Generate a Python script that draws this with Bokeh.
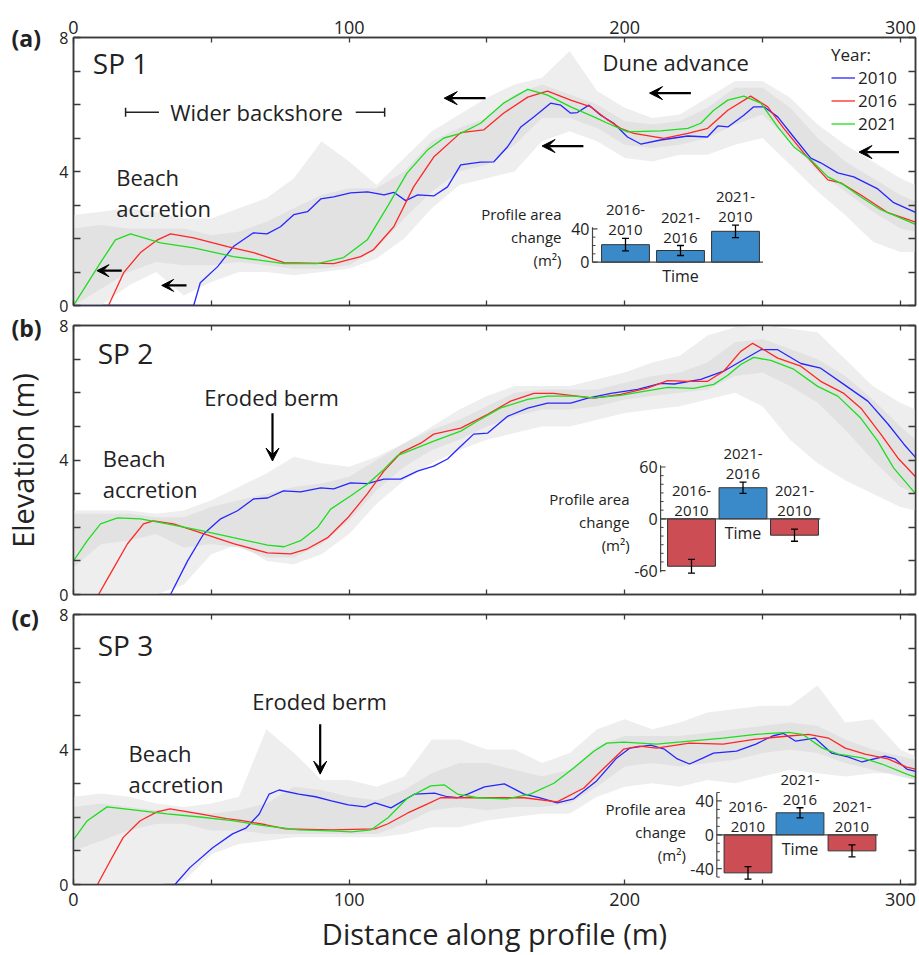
import numpy as np
from bokeh.plotting import figure
from bokeh.models import (Range1d, LinearAxis, FixedTicker, Label, Arrow, VeeHead,
                          TeeHead, Legend, LegendItem)
from bokeh.layouts import column, row
from bokeh.embed import file_html
from bokeh.resources import INLINE
from bokeh.core.properties import value

FONT = "Open Sans"
BLUE, RED, GREEN = "#2626ff", "#ff2626", "#1fdc1f"
BAR_POS, BAR_NEG = "#3a8ac9", "#cd4d55"
INK = "#222222"
AXC = "#3a3a3a"

# ---------------- data ----------------
YEARS = ["2010", "2016", "2021"]
X_TICKS = [0, 100, 200, 300]
X_MINOR = [50, 150, 250]
Y_TICKS = [0, 4, 8]
Y_MINOR = [1, 2, 3, 5, 6, 7]

# Panel (a) SP 1
A_2010_X = [0, 43.6, 46, 52.3, 58, 65.3, 70.2, 75.1, 79.9, 84.9, 89.7, 94.4, 100.5, 106.7, 112.7, 116.2, 120.5, 124.9, 130.7, 135.7, 140.5, 147.7, 152.5, 157.5, 162.3, 167, 173.1, 176.8, 180.4, 182.8, 187, 191.3, 196, 201, 205.8, 213, 222.9, 230, 233.8, 237.4, 243.2, 246.8, 250.5, 255.5, 261.3, 267.5, 271.1, 277.3, 283.1, 291.8, 297.6, 305.5]
A_2010_Y = [0, 0, 0.68, 1.16, 1.76, 2.17, 2.14, 2.35, 2.71, 2.8, 3.18, 3.24, 3.36, 3.39, 3.3, 3.38, 3.13, 3.30, 3.27, 3.54, 4.2, 4.28, 4.29, 4.74, 5.33, 5.63, 6.04, 5.98, 5.74, 5.76, 5.98, 5.68, 5.44, 5.03, 4.82, 4.94, 5.06, 5.03, 5.36, 5.33, 5.68, 5.93, 5.93, 5.63, 5.03, 4.40, 4.26, 3.96, 3.84, 3.48, 3.07, 2.78]
A_2016_X = [12.7, 18.2, 24.3, 30.5, 35.2, 43.6, 55.9, 65.3, 76.4, 94.4, 104.2, 108.9, 116.2, 123.4, 130.7, 140.5, 148.8, 156, 164.8, 172, 180.4, 187.7, 193.8, 198.5, 203.3, 214.2, 222.9, 230.1, 237.4, 245.7, 251.9, 257.7, 265, 273.7, 278.4, 285.7, 295.5, 305.5]
A_2016_Y = [0, 0.98, 1.58, 1.96, 2.14, 2.02, 1.76, 1.58, 1.28, 1.25, 1.46, 1.67, 2.35, 3.54, 4.43, 5.16, 5.24, 5.74, 6.22, 6.40, 6.13, 5.93, 5.54, 5.29, 5.14, 4.99, 5.14, 5.29, 5.83, 6.25, 5.93, 5.29, 4.55, 3.75, 3.66, 3.30, 2.77, 2.49]
A_2021_X = [0, 9.8, 15.2, 20.7, 31.6, 43.6, 58, 76.4, 88.5, 98, 106.6, 113.9, 121, 128.4, 134.4, 140.5, 147.7, 156, 164.8, 172, 180.4, 188.8, 193.8, 201, 213, 222.9, 227.6, 232.3, 237.4, 243.2, 249.4, 255.5, 261.3, 267.5, 273.7, 279.5, 285.7, 292.9, 305.5]
A_2021_Y = [0, 1.28, 1.96, 2.14, 1.87, 1.72, 1.46, 1.25, 1.25, 1.43, 1.96, 2.95, 3.95, 4.64, 5.0, 5.14, 5.44, 6.04, 6.45, 6.28, 5.93, 5.63, 5.44, 5.18, 5.21, 5.29, 5.44, 5.83, 6.13, 6.25, 6.04, 5.33, 4.74, 4.35, 3.84, 3.60, 3.24, 2.86, 2.42]

# Panel (b) SP 2
B_2010_X = [35.2, 41.4, 47.2, 53.4, 59.5, 65.3, 70.4, 76.2, 82.4, 89.7, 94.4, 100.5, 106.6, 112.6, 118.7, 124.8, 130.7, 135.7, 140.5, 145.2, 150.3, 157.5, 164.8, 172, 180.4, 186.6, 195, 204.7, 213, 218, 227.6, 235.9, 243.2, 249.4, 255.5, 263.9, 271.1, 279.5, 288.2, 295.5, 301.3, 305.5]
B_2010_Y = [0, 1.0, 1.8, 2.25, 2.49, 2.84, 2.87, 3.08, 3.05, 3.17, 3.14, 3.32, 3.30, 3.43, 3.43, 3.67, 3.82, 4.03, 4.41, 4.77, 4.80, 5.30, 5.54, 5.69, 5.69, 5.84, 5.98, 6.10, 6.28, 6.26, 6.40, 6.64, 6.99, 7.28, 7.28, 6.87, 6.73, 6.25, 5.75, 5.07, 4.47, 4.08]
B_2016_X = [9.1, 13.4, 19.6, 25.4, 29, 36.3, 46, 58, 70.4, 78.8, 84.9, 92.2, 99.5, 106.6, 112.6, 118.7, 126, 130.7, 140.5, 150.3, 158.6, 167, 174.2, 180.4, 188.8, 198.5, 208.2, 215.6, 222.9, 230.1, 235.9, 242.1, 246.4, 250.5, 255.5, 263.9, 271.1, 279.5, 285.7, 292.9, 299.1, 305.5]
B_2016_Y = [0, 0.62, 1.51, 2.1, 2.19, 2.1, 1.84, 1.51, 1.24, 1.21, 1.36, 1.69, 2.28, 2.99, 3.67, 4.21, 4.5, 4.77, 4.95, 5.36, 5.75, 5.98, 5.98, 5.92, 5.84, 5.95, 6.14, 6.36, 6.34, 6.34, 6.64, 7.23, 7.47, 7.28, 7.03, 6.79, 6.34, 5.98, 5.54, 4.77, 4.06, 3.50]
B_2021_X = [0, 5, 9.8, 16, 24.3, 34, 46, 58, 70.4, 76.4, 82.4, 88.5, 93.3, 100.5, 106.6, 112.6, 117.5, 124.8, 130.7, 140.5, 146.6, 155, 164.8, 172, 181.5, 188.8, 198.5, 206.9, 215.6, 225, 232.3, 237.4, 242.1, 246.8, 253, 261.3, 270, 277.3, 285.7, 291.8, 297.6, 305.5]
B_2021_Y = [1.0, 1.6, 2.1, 2.28, 2.25, 2.1, 1.91, 1.69, 1.47, 1.42, 1.6, 1.99, 2.54, 2.93, 3.28, 3.72, 4.13, 4.37, 4.56, 4.86, 5.16, 5.55, 5.8, 5.9, 5.9, 5.85, 5.92, 6.04, 6.16, 6.13, 6.25, 6.52, 6.84, 7.05, 6.96, 6.70, 6.19, 5.90, 5.24, 4.56, 3.76, 3.00]

# Panel (c) SP 3
C_2010_X = [36.8, 42.2, 50.5, 57.7, 62.7, 67.4, 71, 74.6, 81.7, 87.8, 93.6, 99.7, 105.8, 109.4, 115.2, 123.8, 131, 135.6, 139.3, 143, 149.1, 156.3, 163.5, 169.3, 175.5, 181.5, 189.8, 197.1, 201.8, 209.4, 214.4, 219.1, 223.5, 228.5, 232.2, 240.6, 247.6, 253.6, 257.5, 261.9, 269, 275.1, 281, 286.1, 294.4, 298.1, 302.3, 305.5]
C_2010_Y = [0, 0.50, 1.09, 1.50, 1.68, 2.09, 2.68, 2.80, 2.68, 2.60, 2.48, 2.36, 2.30, 2.42, 2.27, 2.68, 2.71, 2.60, 2.57, 2.68, 2.89, 2.98, 2.68, 2.57, 2.42, 2.54, 3.07, 3.75, 4.04, 4.13, 4.01, 3.72, 3.57, 3.75, 3.89, 3.95, 4.16, 4.40, 4.48, 4.25, 4.34, 3.89, 3.78, 3.63, 3.80, 3.72, 3.42, 3.35]
C_2016_X = [8.7, 13.4, 18, 24.2, 30.3, 35, 45.8, 55.5, 61.3, 69.8, 77, 93.6, 109.4, 114.1, 121.3, 128.5, 133.2, 139.3, 151.3, 163.5, 175.5, 185.2, 192.5, 199.6, 205.4, 211.5, 223.5, 235.7, 247.6, 259.5, 266.7, 273.9, 280, 287.2, 295.5, 302.3, 305.5]
C_2016_Y = [0, 0.71, 1.39, 1.89, 2.15, 2.24, 2.09, 1.95, 1.89, 1.77, 1.65, 1.62, 1.65, 1.80, 2.12, 2.39, 2.57, 2.57, 2.57, 2.57, 2.45, 2.86, 3.45, 4.01, 4.10, 4.04, 4.19, 4.16, 4.31, 4.40, 4.45, 4.34, 4.04, 3.86, 3.72, 3.48, 3.42]
C_2021_X = [0, 5, 12.2, 21.7, 33.9, 45.8, 57.6, 69.8, 81.7, 93.6, 100.8, 108, 114.1, 121.3, 129.6, 134.6, 139.3, 146.6, 157.4, 165.7, 174.3, 181.5, 188.8, 193.5, 199.6, 211.5, 223.5, 235.7, 247.6, 259.5, 264.5, 271.7, 277.5, 286.1, 293.3, 302.3, 305.5]
C_2021_Y = [1.33, 1.89, 2.30, 2.21, 2.09, 2.0, 1.89, 1.74, 1.62, 1.59, 1.56, 1.62, 1.98, 2.57, 2.92, 2.95, 2.68, 2.57, 2.54, 2.68, 3.0, 3.45, 3.95, 4.19, 4.22, 4.16, 4.25, 4.34, 4.45, 4.51, 4.45, 4.04, 3.86, 3.75, 3.57, 3.27, 3.18]

# variability envelopes (grey bands), 10 m grid
BAND_X = [0, 10, 20, 30, 40, 50, 60, 70, 80, 90, 100, 110, 120, 130, 140, 150, 160, 170, 180, 190, 200, 210, 220, 230, 240, 250, 260, 270, 280, 290, 300, 305.5]
A_OUT_LO = [0, 0, 0.6, 1.0, 0.3, 0.7, 1.0, 1.0, 0.9, 1.0, 1.1, 1.4, 2.0, 2.9, 3.6, 3.8, 4.0, 4.9, 5.2, 4.9, 4.4, 4.3, 4.5, 4.5, 4.8, 5.0, 4.2, 3.4, 2.7, 1.9, 1.6, 1.6]
A_OUT_HI = [2.7, 2.8, 2.9, 2.8, 2.6, 2.6, 2.9, 3.2, 3.8, 4.9, 4.3, 3.6, 4.4, 5.2, 5.7, 6.2, 6.6, 6.8, 7.6, 6.4, 5.9, 5.6, 5.7, 6.2, 6.7, 6.7, 6.2, 5.4, 4.8, 4.3, 3.8, 3.6]
A_IN_LO = [0.0, 0.5, 1.0, 1.3, 1.2, 1.2, 1.3, 1.2, 1.1, 1.1, 1.2, 1.7, 2.6, 3.4, 4.0, 4.2, 4.8, 5.6, 5.6, 5.3, 4.8, 4.7, 4.8, 5.0, 5.4, 5.7, 4.9, 4.0, 3.4, 2.8, 2.3, 2.2]
A_IN_HI = [2.3, 2.4, 2.3, 2.3, 2.3, 2.1, 2.2, 2.5, 2.9, 3.3, 3.5, 3.5, 4.0, 4.9, 5.3, 5.6, 6.3, 6.6, 6.3, 6.0, 5.5, 5.4, 5.5, 5.9, 6.5, 6.5, 5.9, 5.0, 4.3, 3.8, 3.3, 3.1]
B_OUT_LO = [0, 0, 0, 0, 0.3, 1.2, 1.5, 1.0, 0.9, 1.2, 1.8, 2.7, 3.4, 3.9, 4.3, 4.6, 4.8, 5.0, 5.0, 5.2, 5.4, 5.5, 5.6, 5.8, 6.0, 5.6, 4.6, 3.9, 3.4, 3.0, 2.6, 2.5]
B_OUT_HI = [2.5, 2.5, 2.5, 2.4, 2.5, 2.8, 3.2, 3.6, 4.1, 3.9, 3.8, 4.1, 4.5, 5.0, 5.5, 5.9, 6.2, 6.2, 6.2, 6.4, 6.6, 6.9, 7.1, 7.7, 7.95, 8.0, 7.9, 7.8, 7.0, 6.2, 5.7, 5.5]
B_IN_LO = [0.8, 1.5, 1.6, 1.8, 1.4, 1.5, 1.4, 1.1, 1.1, 1.5, 2.2, 3.1, 3.8, 4.3, 4.6, 5.0, 5.3, 5.5, 5.5, 5.6, 5.8, 5.9, 6.0, 6.1, 6.5, 6.6, 6.2, 5.7, 4.9, 4.0, 3.2, 3.0]
B_IN_HI = [2.4, 2.4, 2.4, 2.3, 2.3, 2.6, 2.8, 3.0, 3.2, 3.3, 3.5, 4.0, 4.5, 4.9, 5.2, 5.6, 6.0, 6.1, 6.1, 6.1, 6.3, 6.5, 6.6, 6.9, 7.5, 7.6, 7.3, 7.0, 6.5, 5.8, 5.0, 4.6]
C_OUT_LO = [0, 0, 0, 0, 0.1, 0.9, 1.2, 1.3, 1.4, 1.4, 1.4, 1.4, 1.5, 1.7, 1.7, 1.9, 2.0, 2.1, 2.1, 2.6, 2.9, 3.0, 2.9, 3.1, 3.0, 3.2, 3.4, 3.3, 3.2, 3.3, 3.3, 3.2]
C_OUT_HI = [2.6, 2.7, 2.6, 2.4, 2.3, 2.4, 2.6, 4.6, 3.9, 3.1, 3.1, 2.9, 3.2, 4.3, 4.3, 4.0, 4.0, 3.6, 3.9, 4.6, 4.9, 4.6, 4.8, 5.1, 5.2, 5.3, 5.3, 5.9, 4.8, 4.9, 4.0, 3.8]
C_IN_LO = [1.0, 1.3, 1.6, 1.8, 1.8, 1.6, 1.6, 1.5, 1.5, 1.5, 1.5, 1.5, 1.8, 2.2, 2.3, 2.2, 2.3, 2.3, 2.4, 2.9, 3.5, 3.6, 3.5, 3.6, 3.7, 3.9, 4.0, 3.9, 3.6, 3.4, 3.2, 3.1]
C_IN_HI = [2.3, 2.4, 2.3, 2.2, 2.2, 2.1, 2.2, 2.4, 2.9, 2.8, 2.6, 2.5, 2.8, 3.3, 3.6, 3.6, 3.4, 3.2, 3.4, 4.1, 4.4, 4.4, 4.4, 4.5, 4.6, 4.7, 4.8, 4.7, 4.3, 4.0, 3.8, 3.7]

# inset bar charts: profile area change (m2)
PERIOD_TOP = ["2016-", "2021-", "2021-"]
PERIOD_BOT = ["2010", "2016", "2010"]
PERIOD_POS = [1, 2, 3]
A_CHANGE = [21, 14, 37]
A_ERR = [7.5, 6, 7.5]
B_CHANGE = [-55, 36, -19]
B_ERR = [8, 6.5, 7]
C_CHANGE = [-45, 26, -19]
C_ERR = [7.5, 6, 7]
A_IN_TICKS, A_IN_MINOR, A_IN_AXIS = [0, 40], [10, 20, 30], (0, 42)
B_IN_TICKS, B_IN_MINOR, B_IN_AXIS = [-60, 0, 60], [-50, -40, -30, -20, -10, 10, 20, 30, 40, 50], (-62, 62)
C_IN_TICKS, C_IN_MINOR, C_IN_AXIS = [-40, 0, 40], [-50, -30, -20, -10, 10, 20, 30, 50], (-50, 50)

# ---------------- layout constants (page pixels) ----------------
STRIP = 45          # left strip holding panel letters and the y title
FL, FR = 73, 915    # frame left / right on the page
PAGE_W = 917
W = PAGE_W - STRIP
XMAX = 305.5


def add_axes(p, top_labels, bottom_labels):
    for side in ("below", "above", "left", "right"):
        ax = LinearAxis()
        if side in ("below", "above"):
            ax.ticker = FixedTicker(ticks=X_TICKS, minor_ticks=X_MINOR)
            tl = 5
            labelled = (side == "above" and top_labels) or (side == "below" and bottom_labels)
            ticks = X_TICKS
            fs = "18px"
        else:
            ax.ticker = FixedTicker(ticks=Y_TICKS, minor_ticks=Y_MINOR)
            tl = 7
            labelled = side == "left"
            ticks = Y_TICKS
            fs = "16px"
        ax.major_tick_in = tl
        ax.major_tick_out = 0
        ax.minor_tick_in = tl
        ax.minor_tick_out = 0
        ax.axis_line_color = AXC
        ax.axis_line_width = 1.5
        ax.major_tick_line_color = AXC
        ax.minor_tick_line_color = AXC
        ax.major_tick_line_width = 1.3
        ax.minor_tick_line_width = 1.3
        if labelled:
            ax.major_label_text_font = FONT
            ax.major_label_text_font_size = fs
            ax.major_label_text_color = INK
            ax.major_label_standoff = 5 if side == "left" else 4
        else:
            ax.major_label_overrides = {t: "" for t in ticks}
            ax.major_label_text_font_size = "0px"
            ax.major_label_standoff = 0
        if side == "below" and bottom_labels:
            ax.major_label_standoff = 8
            ax.axis_label = "Distance along profile (m)"
            ax.axis_label_text_font = FONT
            ax.axis_label_text_font_size = "29px"
            ax.axis_label_text_font_style = "normal"
            ax.axis_label_text_color = INK
            ax.axis_label_standoff = 5
        p.add_layout(ax, side)


def make_panel(height, b_top, b_bottom, top_labels, bottom_labels):
    p = figure(width=W, height=height, x_range=Range1d(0, XMAX), y_range=Range1d(0, 8),
               output_backend="svg", toolbar_location=None,
               x_axis_location=None, y_axis_location=None,
               min_border_left=FL - STRIP, min_border_right=PAGE_W - FR,
               min_border_top=b_top, min_border_bottom=b_bottom)
    p.grid.visible = False
    p.outline_line_color = AXC
    p.outline_line_width = 1.5
    add_axes(p, top_labels, bottom_labels)
    return p


def bands(p, olo, ohi, ilo, ihi):
    p.varea(x=BAND_X, y1=olo, y2=ohi, fill_color="#eeeeee", fill_alpha=1.0)
    p.varea(x=BAND_X, y1=ilo, y2=ihi, fill_color="#dedede", fill_alpha=0.8)


def curves(p, xs, ys):
    rs = []
    for x, y, c in zip(xs, ys, [BLUE, RED, GREEN]):
        rs.append(p.line(x, y, line_color=c, line_width=1.3))
    return rs


def label(p, x, y, text, size="23px", align="left", bold=False, angle=0.0):
    p.add_layout(Label(x=x, y=y, text=text, text_font=FONT, text_font_size=size,
                       text_color=INK, text_align=align, text_baseline="middle",
                       text_font_style="bold" if bold else "normal", angle=angle))


def arrow(p, x0, y0, x1, y1, size=13):
    p.add_layout(Arrow(x_start=x0, y_start=y0, x_end=x1, y_end=y1, line_width=2.2,
                       line_color="black",
                       end=VeeHead(size=size, fill_color="black", line_color="black", line_width=1)))


def inset(p, name, frame, vals, errs, c1_px, pitch_px, zero_py, unit_px, width,
          ticks, minor, axis_span, prof_y):
    ft, fb = frame
    xr, yr = name + "_x", name + "_y"
    p.extra_x_ranges[xr] = Range1d(1 + (FL - c1_px) / pitch_px, 1 + (FR - c1_px) / pitch_px)
    p.extra_y_ranges[yr] = Range1d((zero_py - fb) / unit_px, (zero_py - ft) / unit_px)
    kw = dict(x_range_name=xr, y_range_name=yr)
    ax_x, end_x = 0.4, 3.5
    cols = [BAR_POS if v > 0 else BAR_NEG for v in vals]
    p.vbar(x=PERIOD_POS, top=vals, bottom=0, width=width, fill_color=cols,
           line_color="#333333", line_width=1, **kw)
    p.segment(x0=[ax_x], y0=[0], x1=[end_x], y1=[0], line_color="#444444", line_width=1.2, **kw)
    p.segment(x0=[ax_x], y0=[axis_span[0]], x1=[ax_x], y1=[axis_span[1]],
              line_color="#444444", line_width=1.2, **kw)
    p.ray(x=[ax_x] * len(ticks), y=ticks, length=5, length_units="screen", angle=0,
          line_color="#444444", line_width=1.2, **kw)
    p.ray(x=[ax_x] * len(minor), y=minor, length=3, length_units="screen", angle=0,
          line_color="#444444", line_width=1, **kw)
    p.text(x=[ax_x] * len(ticks), y=ticks, text=[str(t) for t in ticks], x_offset=-3,
           text_align="right", text_baseline="middle", text_font=value(FONT),
           text_font_size="16px", text_color=INK, **kw)
    lo = [v - e for v, e in zip(vals, errs)]
    hi = [v + e for v, e in zip(vals, errs)]
    p.segment(x0=PERIOD_POS, y0=lo, x1=PERIOD_POS, y1=hi, line_color="black", line_width=1.3, **kw)
    p.scatter(x=PERIOD_POS + PERIOD_POS, y=lo + hi, marker="dash", size=7,
              line_color="black", line_width=1.3, **kw)
    base = [max(0, h) for h in hi]
    p.text(x=PERIOD_POS, y=base, text=PERIOD_BOT, y_offset=-3, text_align="center",
           text_baseline="bottom", text_font=value(FONT), text_font_size="15px", text_color=INK, **kw)
    p.text(x=PERIOD_POS, y=base, text=PERIOD_TOP, y_offset=-23, text_align="center",
           text_baseline="bottom", text_font=value(FONT), text_font_size="15px", text_color=INK, **kw)
    p.text(x=[2], y=[0], text=["Time"], y_offset=3, text_align="center", text_baseline="top",
           text_font=value(FONT), text_font_size="16px", text_color=INK, **kw)
    for off, t in zip([-23, 0, 23], ["Profile area", "change", "(m\u00b2)"]):
        p.text(x=[ax_x], y=[prof_y], text=[t], x_offset=-31, y_offset=off, text_align="right",
               text_baseline="middle", text_font=value(FONT), text_font_size="15px",
               text_color=INK, **kw)


# ---------------- panel (a) ----------------
pa = make_panel(315, 37, 10, True, False)
bands(pa, A_OUT_LO, A_OUT_HI, A_IN_LO, A_IN_HI)
ra = curves(pa, [A_2010_X, A_2016_X, A_2021_X], [A_2010_Y, A_2016_Y, A_2021_Y])
label(pa, 7.0, 7.25, "SP 1", size="28px")
label(pa, 66.4, 5.77, "Wider backshore", size="22px", align="center")
pa.add_layout(Arrow(x_start=31, y_start=5.77, x_end=18.9, y_end=5.77, line_width=1.5,
                    line_color=INK, end=TeeHead(size=9, line_color=INK, line_width=1.5)))
pa.add_layout(Arrow(x_start=102.4, y_start=5.77, x_end=112.9, y_end=5.77, line_width=1.5,
                    line_color=INK, end=TeeHead(size=9, line_color=INK, line_width=1.5)))
label(pa, 15.5, 3.84, "Beach", size="22px")
label(pa, 15.5, 2.92, "accretion", size="22px")
label(pa, 218.5, 7.26, "Dune advance", size="22px", align="center")
arrow(pa, 17.5, 1.04, 8.5, 1.04, size=12)
arrow(pa, 41, 0.6, 32, 0.6, size=12)
arrow(pa, 149.5, 6.19, 134.5, 6.19)
arrow(pa, 185, 4.76, 170, 4.76)
arrow(pa, 224, 6.34, 209, 6.34)
arrow(pa, 299.5, 4.58, 285, 4.58)
inset(pa, "ia", (37, 305), A_CHANGE, A_ERR, 625, 55, 261.7, 0.835, 0.87,
      A_IN_TICKS, A_IN_MINOR, A_IN_AXIS, 30)
leg = Legend(items=[LegendItem(label=y, renderers=[r]) for y, r in zip(YEARS, ra)],
             title="Year:", location="top_right")
leg.title_text_font = FONT
leg.title_text_font_size = "17px"
leg.title_text_font_style = "normal"
leg.title_text_color = INK
leg.title_standoff = -4
leg.label_text_font = FONT
leg.label_text_font_size = "17px"
leg.label_text_color = INK
leg.glyph_width = 24
leg.glyph_height = 17
leg.label_height = 17
leg.label_width = 51
leg.label_standoff = 3
leg.spacing = -4
leg.padding = 0
leg.margin = 6
leg.border_line_alpha = 0
leg.background_fill_alpha = 0
pa.add_layout(leg)

# ---------------- panel (b) ----------------
pb = make_panel(289, 10, 10, False, False)
bands(pb, B_OUT_LO, B_OUT_HI, B_IN_LO, B_IN_HI)
curves(pb, [B_2010_X, B_2016_X, B_2021_X], [B_2010_Y, B_2016_Y, B_2021_Y])
label(pb, 8.8, 7.17, "SP 2", size="28px")
label(pb, 71.9, 5.87, "Eroded berm", size="22px", align="center")
arrow(pb, 72.2, 5.39, 72.2, 3.97)
label(pb, 10.6, 4.06, "Beach", size="22px")
label(pb, 10.6, 3.14, "accretion", size="22px")
inset(pb, "ib", (325, 594), B_CHANGE, B_ERR, 691, 51.5, 518.3, 0.863, 0.93,
      B_IN_TICKS, B_IN_MINOR, B_IN_AXIS, -4)

# ---------------- panel (c) ----------------
pc = make_panel(351, 10, 71, False, True)
bands(pc, C_OUT_LO, C_OUT_HI, C_IN_LO, C_IN_HI)
curves(pc, [C_2010_X, C_2016_X, C_2021_X], [C_2010_Y, C_2016_Y, C_2021_Y])
label(pc, 8.8, 7.11, "SP 3", size="28px")
label(pc, 89.3, 5.43, "Eroded berm", size="22px", align="center")
arrow(pc, 89.5, 4.75, 89.5, 3.27)
label(pc, 20.0, 3.89, "Beach", size="22px")
label(pc, 20.0, 2.98, "accretion", size="22px")
inset(pc, "ic", (614, 884), C_CHANGE, C_ERR, 747.5, 52, 834.3, 0.846, 0.92,
      C_IN_TICKS, C_IN_MINOR, C_IN_AXIS, 3)

# ---------------- left strip: panel letters + y title ----------------
strip = figure(width=STRIP, height=955, x_range=Range1d(0, STRIP), y_range=Range1d(955, 0),
               output_backend="svg", toolbar_location=None,
               x_axis_location=None, y_axis_location=None,
               min_border=0, min_border_left=0, min_border_right=0,
               min_border_top=0, min_border_bottom=0)
strip.grid.visible = False
strip.outline_line_color = None
for t, yy in [("(a)", 37), ("(b)", 327), ("(c)", 617)]:
    label(strip, 11, yy, t, size="23px", bold=True)
label(strip, 22, 460, "Elevation (m)", size="29px", align="center", angle=np.pi / 2)

layout = row(strip, column(pa, pb, pc, spacing=0), spacing=0)
open("out.html", "w").write(file_html(layout, INLINE))
